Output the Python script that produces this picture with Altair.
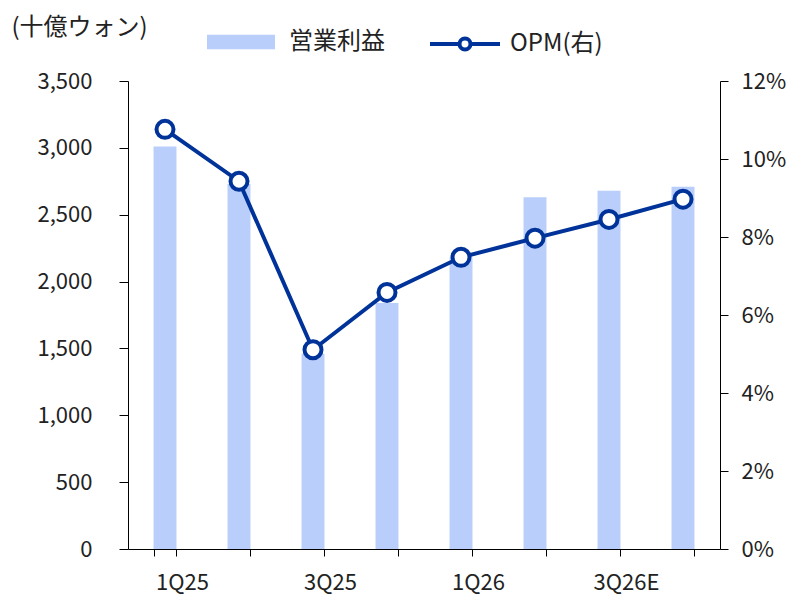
import altair as alt
import pandas as pd

quarters = ["1Q25", "2Q25", "3Q25", "4Q25", "1Q26", "2Q26", "3Q26E", "4Q26E"]
op_profit = [3010, 2730, 1460, 1840, 2180, 2630, 2680, 2710]
opm = [0.1076, 0.0943, 0.0511, 0.0658, 0.0748, 0.0797, 0.0845, 0.0897]
shown_labels = ["1Q25", "3Q25", "1Q26", "3Q26E"]
left_ticks = [0, 500, 1000, 1500, 2000, 2500, 3000, 3500]
right_ticks = [0, 0.02, 0.04, 0.06, 0.08, 0.10, 0.12]

df = pd.DataFrame({
    "q": quarters,
    "op": op_profit,
    "opm": opm,
    "s1": ["営業利益"] * len(quarters),
    "s2": ["OPM(右)"] * len(quarters),
})

FONT = "Noto Sans CJK JP"
BAR = "#B9CEFA"
LINE = "#003399"
TXT = "#222222"

label_expr = "indexof(" + str(shown_labels).replace(" ", "") + ", datum.value) >= 0 ? datum.value : ''"

x = alt.X(
    "q:N",
    sort=quarters,
    title=None,
    scale=alt.Scale(paddingInner=0.69, paddingOuter=0.345),
    axis=alt.Axis(
        labelAngle=0,
        labelExpr=label_expr,
        tickBand="extent",
        labelOffset=17,
        labelPadding=16,
        tickSize=7,
        labelFontSize=22,
        labelColor=TXT,
        domainColor="#000000",
        tickColor="#000000",
    ),
)

bars = alt.Chart(df).mark_bar(color=BAR).encode(
    x=x,
    y=alt.Y(
        "op:Q",
        scale=alt.Scale(domain=[0, 3500], nice=False),
        axis=alt.Axis(
            values=left_ticks,
            format=",.0f",
            title="(十億ウォン)",
            titleAngle=0,
            titleAlign="left",
            titleBaseline="middle",
            titleX=-117,
            titleY=-54,
            titleFontSize=24,
            titleFontWeight="normal",
            titleColor=TXT,
            labelFontSize=22,
            labelColor=TXT,
            labelPadding=27,
            tickSize=9,
            grid=False,
            domainColor="#000000",
            tickColor="#000000",
            orient="left",
        ),
    ),
    color=alt.Color(
        "s1:N",
        scale=alt.Scale(domain=["営業利益"], range=[BAR]),
        legend=alt.Legend(
            title=None,
            orient="none",
            legendX=79,
            legendY=-73,
            symbolType="M-1,-0.216H1V0.216H-1Z",
            symbolSize=4624,
            symbolStrokeWidth=0,
            labelFontSize=24,
            labelColor=TXT,
            labelOffset=14,
        ),
    ),
)

opm_axis = alt.Axis(
    values=right_ticks,
    format=".0%",
    title=None,
    orient="right",
    labelFontSize=22,
    labelColor=TXT,
    labelPadding=13,
    tickSize=8,
    grid=False,
    domainColor="#000000",
    tickColor="#000000",
)
opm_scale = alt.Scale(domain=[0, 0.12], nice=False)

stroke = alt.Stroke(
    "s2:N",
    scale=alt.Scale(domain=["OPM(右)"], range=[LINE]),
    legend=alt.Legend(
        title=None,
        orient="none",
        legendX=300,
        legendY=-74,
        symbolType="M-1,0H-0.157M0.157,0H1M0.157,0A0.157,0.157 0 1,1 -0.157,0A0.157,0.157 0 1,1 0.157,0Z",
        symbolSize=4900,
        symbolStrokeWidth=4,
        symbolFillColor="white",
        labelFontSize=24,
        labelColor=TXT,
        labelOffset=8,
    ),
)

line = alt.Chart(df).mark_line(strokeWidth=4).encode(
    x=alt.X("q:N", sort=quarters),
    y=alt.Y("opm:Q", scale=opm_scale, axis=opm_axis),
    stroke=stroke,
)

points = alt.Chart(df).mark_point(
    shape="circle", filled=False, fill="white", fillOpacity=1, opacity=1, size=289, strokeWidth=4
).encode(
    x=alt.X("q:N", sort=quarters),
    y=alt.Y("opm:Q", scale=opm_scale, axis=opm_axis),
    stroke=stroke,
)

chart = alt.layer(bars, alt.layer(line, points)).resolve_scale(
    y="independent"
).properties(
    width=592,
    height=468,
    padding={"left": 120, "top": 73, "right": 72, "bottom": 50},
    autosize=alt.AutoSizeParams(type="none"),
).configure(
    font=FONT,
).configure_view(
    stroke=None,
).configure_axis(
    labelFont=FONT,
    titleFont=FONT,
    domainWidth=1,
    tickWidth=1,
).configure_legend(
    labelFont=FONT,
)

chart.save("out.html", embed_options={"renderer": "svg", "actions": False})
